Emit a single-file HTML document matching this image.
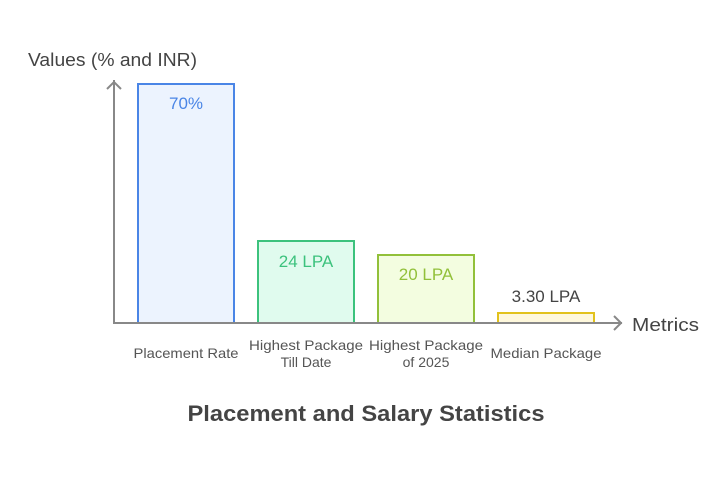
<!DOCTYPE html>
<html><head><style>body{margin:0;background:#fff}</style></head><body>
<svg width="726" height="480" xmlns="http://www.w3.org/2000/svg" font-family="Liberation Sans, sans-serif">
<rect width="726" height="480" fill="#fff"/>
<rect x="138" y="84" width="96" height="239" fill="#ecf3fe" stroke="#4a85e6" stroke-width="2"/>
<rect x="258" y="241" width="96" height="82" fill="#e0fbee" stroke="#3cc27d" stroke-width="2"/>
<rect x="378" y="255" width="96" height="68" fill="#f3fde0" stroke="#92c03a" stroke-width="2"/>
<rect x="498" y="313" width="96" height="10" fill="#fef8dc" stroke="#e2c21c" stroke-width="2"/>
<line x1="114" y1="80" x2="114" y2="324" stroke="#888" stroke-width="2"/>
<polyline points="107,89 114,82 121,89" fill="none" stroke="#888" stroke-width="2"/>
<line x1="113" y1="323" x2="622" y2="323" stroke="#888" stroke-width="2"/>
<polyline points="614,316 621,323 614,330" fill="none" stroke="#888" stroke-width="2"/>
<text x="28" y="66" font-size="18" fill="#444" textLength="169" lengthAdjust="spacingAndGlyphs">Values (% and INR)</text>
<text x="632" y="331" font-size="18" fill="#444" textLength="67" lengthAdjust="spacingAndGlyphs">Metrics</text>
<g font-size="17" text-anchor="middle">
<text x="186" y="109" fill="#4a85e6">70%</text>
<text x="306" y="267" fill="#3cc27d">24 LPA</text>
<text x="426" y="280" fill="#92c03a">20 LPA</text>
<text x="546" y="302" fill="#444">3.30 LPA</text>
</g>
<g font-size="14" text-anchor="middle" fill="#555">
<text x="186" y="358" textLength="105" lengthAdjust="spacingAndGlyphs">Placement Rate</text>
<text x="306" y="350" textLength="114" lengthAdjust="spacingAndGlyphs">Highest Package</text>
<text x="306" y="367">Till Date</text>
<text x="426" y="350" textLength="114" lengthAdjust="spacingAndGlyphs">Highest Package</text>
<text x="426" y="367">of 2025</text>
<text x="546" y="358" textLength="111" lengthAdjust="spacingAndGlyphs">Median Package</text>
</g>
<text x="366" y="421" font-size="22" font-weight="bold" fill="#444" text-anchor="middle" textLength="357" lengthAdjust="spacingAndGlyphs">Placement and Salary Statistics</text>
</svg>
</body></html>
